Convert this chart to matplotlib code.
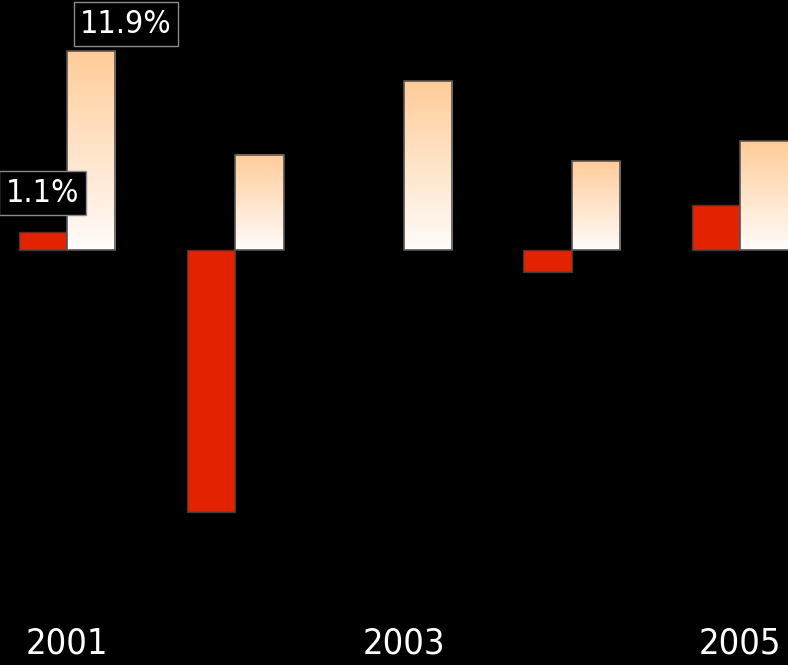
import numpy as np
import matplotlib
matplotlib.use("Agg")
import matplotlib.pyplot as plt
from matplotlib.colors import LinearSegmentedColormap

# data
years = ["2001", "2002", "2003", "2004", "2005"]
red_vals = [1.1, -15.7, 0.0, -1.3, 2.7]
grad_vals = [11.9, 5.7, 10.1, 5.3, 6.5]
shown_ticks = [0, 2, 4]
labels = {"red": (0, "1.1%"), "grad": (0, "11.9%")}

narrow = ["DejaVu Sans", "Liberation Sans"]

fig = plt.figure(figsize=(7.88, 6.65), dpi=100, facecolor="black")
ax = fig.add_axes([0, 0.098, 1, 0.902])
ax.set_facecolor("black")

w = 0.288
x = np.arange(len(years))

# red bars, left of each group (skip the empty one)
for xi, v in zip(x, red_vals):
    if v == 0:
        continue
    ax.bar(xi - w / 2, v, width=w, color="#e32200", edgecolor="#3a3a3a",
           linewidth=1, zorder=2)

# gradient bars: white at the base, peach at the top
cmap = LinearSegmentedColormap.from_list("peach", ["#fffcfa", "#ffcc99"])
grad = np.linspace(0, 1, 256).reshape(-1, 1)
for xi, v in zip(x, grad_vals):
    ax.imshow(grad, extent=(xi, xi + w, 0, v), origin="lower", cmap=cmap,
              aspect="auto", zorder=2)
    ax.bar(xi + w / 2, v, width=w, facecolor="none", edgecolor="#555555",
           linewidth=1.2, zorder=3)

# value labels with black boxes
box = dict(boxstyle="square,pad=0.2", facecolor="black", edgecolor="#8a8a8a", linewidth=1)
i, txt = labels["red"]
ax.text(i - 0.145, 3.4, txt, color="white", fontsize=23,
        fontstretch="condensed", family=narrow, ha="center", va="center",
        bbox=box, zorder=4)
i, txt = labels["grad"]
ax.text(i + 0.351, 13.5, txt, color="white", fontsize=23,
        fontstretch="condensed", family=narrow, ha="center", va="center",
        bbox=box, zorder=4)

ax.set_xlim(-0.398, 4.285)
ax.set_ylim(-20.93, 14.95)
ax.set_xticks(shown_ticks)
ax.set_xticklabels([years[t] for t in shown_ticks], color="white", fontsize=26,
                   fontstretch="condensed", family=narrow)
ax.tick_params(axis="x", length=0, pad=19)
ax.set_yticks([])
for s in ax.spines.values():
    s.set_visible(False)

fig.savefig("out.png", dpi=100, facecolor="black")
